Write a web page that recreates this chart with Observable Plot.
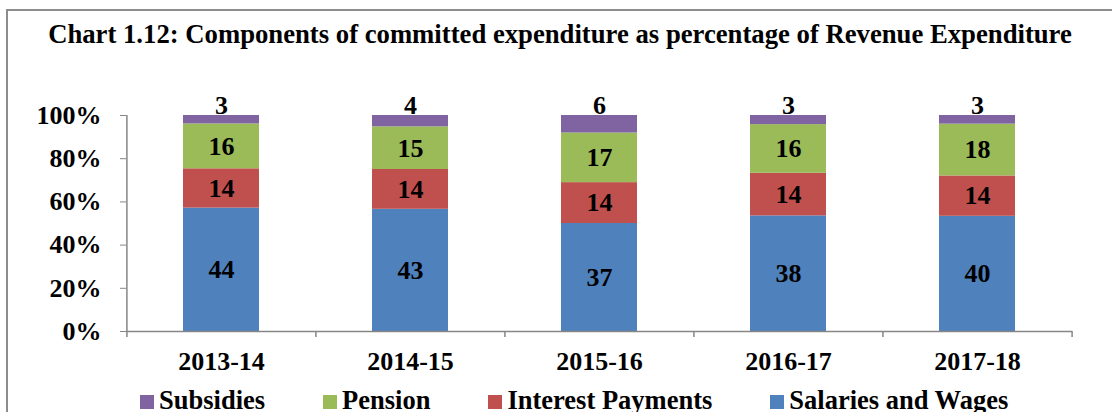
<!DOCTYPE html>
<html>
<head>
<meta charset="utf-8">
<script src="https://cdn.jsdelivr.net/npm/d3@7"></script>
<script src="https://cdn.jsdelivr.net/npm/@observablehq/plot@0.6"></script>
<style>
  body { margin: 0; background: #fff; }
  #wrap { position: relative; width: 1112px; height: 412px; overflow: hidden; background: #fff; font-family: "Liberation Serif", "Times New Roman", serif; }
  #border { position: absolute; left: 6px; top: 9px; width: 1200px; height: 500px; border: 2px solid #8c8c8c; box-sizing: border-box; }
  #title { position: absolute; left: 0; top: 21px; width: 1120px; text-align: center; font-weight: bold; font-size: 26.7px; line-height: 26px; color: #000; white-space: nowrap; }
  #chart { position: absolute; left: 0; top: 0; }
  #legend { position: absolute; left: 140px; top: 387px; display: flex; gap: 58px; font-weight: bold; font-size: 26.5px; line-height: 26px; color: #000; white-space: nowrap; }
  .item { display: flex; align-items: flex-start; gap: 5px; }
  .sw { width: 14px; height: 14px; margin-top: 8px; }
</style>
</head>
<body>
<div id="wrap">
  <div id="border"></div>
  <div id="chart"></div>
  <div id="title">Chart 1.12: Components of committed expenditure as percentage of Revenue Expenditure</div>
  <div id="legend"></div>
</div>
<script>
const years = ["2013-14", "2014-15", "2015-16", "2016-17", "2017-18"];
const seriesNames = ["Salaries and Wages", "Interest Payments", "Pension", "Subsidies"];
const seriesColors = ["#4F81BD", "#C0504D", "#9BBB59", "#8064A2"];
const salaries = [44, 43, 37, 38, 40];
const interest = [14, 14, 14, 14, 14];
const pension = [16, 15, 17, 16, 18];
const subsidies = [3, 4, 6, 3, 3];
const yTicks = [0, 0.2, 0.4, 0.6, 0.8, 1];

const valuesBySeries = [salaries, interest, pension, subsidies];
const data = [];
years.forEach((y, i) => {
  seriesNames.forEach((s, j) => data.push({year: y, series: s, value: valuesBySeries[j][i]}));
});

const W = 1112, H = 412;
const mL = 126, mR = 40, mT = 115, mB = 81;
const step = (W - mL - mR) / years.length;
const axisColor = "#868686";
const font = "Liberation Serif";

const stackOpts = {offset: "normalize", x: "year", y: "value", z: "series", order: seriesNames};

const chart = Plot.plot({
  width: W, height: H,
  marginLeft: mL, marginRight: mR, marginTop: mT, marginBottom: mB,
  style: {fontFamily: font, fontWeight: "bold", background: "transparent", color: "#000"},
  x: {type: "band", domain: years, paddingInner: 0.6, paddingOuter: 0.3},
  y: {domain: [0, 1]},
  color: {domain: seriesNames, range: seriesColors},
  marks: [
    Plot.barY(data, Plot.stackY({...stackOpts, fill: "series"})),
    Plot.ruleY([0], {stroke: axisColor, strokeWidth: 1.5}),
    Plot.ruleX([years[0]], {y1: 0, y2: 1, dx: -step / 2, stroke: axisColor, strokeWidth: 1.5}),
    Plot.ruleX(years, {y1: 0, y2: -0.028, dx: -step / 2, stroke: axisColor, strokeWidth: 1.5}),
    Plot.ruleX([years[years.length - 1]], {y1: 0, y2: -0.028, dx: step / 2, stroke: axisColor, strokeWidth: 1.5}),
    Plot.axisY({ticks: yTicks, tickFormat: d => Math.round(d * 100) + "%", tickSize: 6, tickPadding: 19,
      stroke: axisColor, fill: "#000", fontSize: 26, fontWeight: "bold", label: null}),
    Plot.axisX({tickSize: 0, tickPadding: 20, fontSize: 26, fontWeight: "bold", fill: "#000", label: null}),
    Plot.text(data, Plot.stackY({...stackOpts,
      text: d => d.series === "Subsidies" ? "" : String(d.value),
      fontSize: 26, fontWeight: "bold", fill: "#000"})),
    Plot.text(data, Plot.stackY2({...stackOpts,
      text: d => d.series === "Subsidies" ? String(d.value) : "",
      dy: -10, fontSize: 26, fontWeight: "bold", fill: "#000"}))
  ]
});
document.getElementById("chart").appendChild(chart);

const legend = document.getElementById("legend");
[...seriesNames].reverse().forEach(name => {
  const idx = seriesNames.indexOf(name);
  const item = document.createElement("div");
  item.className = "item";
  const sw = document.createElement("div");
  sw.className = "sw";
  sw.style.background = seriesColors[idx];
  const lab = document.createElement("span");
  lab.textContent = name;
  item.appendChild(sw);
  item.appendChild(lab);
  legend.appendChild(item);
});
</script>
</body>
</html>
